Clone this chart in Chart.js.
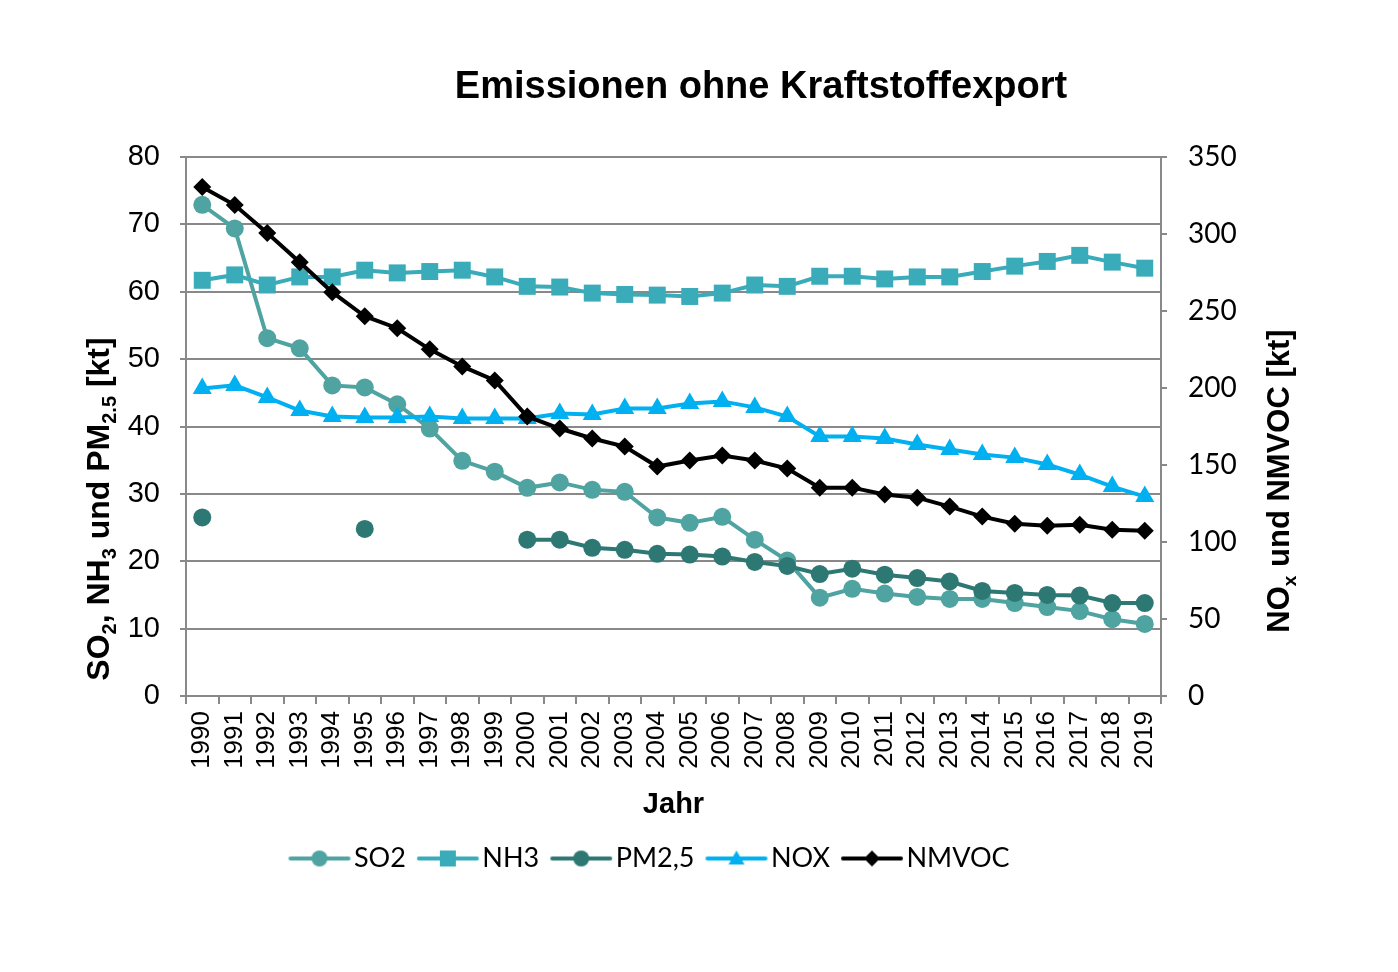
<!DOCTYPE html>
<html>
<head>
<meta charset="utf-8">
<script src="https://cdn.jsdelivr.net/npm/chart.js@4.4.1/dist/chart.umd.min.js"></script>
<style>
  html, body { margin: 0; padding: 0; background: #fff; }
  #wrap { width: 1398px; height: 972px; }
</style>
</head>
<body>
<div id="wrap"><canvas id="chart"></canvas></div>
<script>
const years = ['1990', '1991', '1992', '1993', '1994', '1995', '1996', '1997', '1998', '1999',
               '2000', '2001', '2002', '2003', '2004', '2005', '2006', '2007', '2008', '2009',
               '2010', '2011', '2012', '2013', '2014', '2015', '2016', '2017', '2018', '2019'];

// left axis [kt]
const so2 = [72.9, 69.4, 53.1, 51.6, 46.1, 45.8, 43.3, 39.7, 34.9, 33.3,
             30.9, 31.7, 30.6, 30.3, 26.5, 25.7, 26.6, 23.2, 20.1, 14.6,
             15.9, 15.2, 14.7, 14.4, 14.4, 13.8, 13.2, 12.6, 11.4, 10.7];
const nh3 = [61.7, 62.5, 61.0, 62.2, 62.2, 63.2, 62.8, 63.0, 63.2, 62.2,
             60.8, 60.7, 59.8, 59.6, 59.5, 59.3, 59.8, 61.0, 60.8, 62.3,
             62.3, 61.9, 62.2, 62.2, 63.0, 63.8, 64.5, 65.4, 64.4, 63.5];
const pm25 = [26.5, null, null, null, null, 24.8, null, null, null, null,
              23.2, 23.2, 22.0, 21.7, 21.1, 21.0, 20.7, 19.9, 19.3, 18.1,
              18.9, 18.0, 17.5, 17.0, 15.6, 15.3, 15.0, 14.9, 13.8, 13.8];

// right axis [kt]
const nox = [199.7, 201.7, 193.9, 185.4, 181.5, 180.9, 180.9, 181.5, 180.2, 180.2,
             180.2, 183.5, 182.8, 186.7, 186.7, 190.0, 191.3, 187.4, 181.5, 168.5,
             168.5, 167.2, 163.3, 160.0, 156.8, 154.8, 150.3, 143.8, 136.0, 129.5];
const nmvoc = [330.5, 318.8, 300.6, 281.7, 262.2, 246.6, 238.8, 225.1, 214.0, 204.9,
               181.5, 173.7, 167.2, 162.0, 149.0, 152.9, 156.1, 152.9, 147.7, 135.3,
               135.3, 130.8, 128.8, 123.0, 116.5, 111.9, 110.6, 111.2, 108.0, 107.3];

const leftRange = [0, 80, 10];
const rightRange = [0, 350, 50];

const chartTitle = 'Emissionen ohne Kraftstoffexport';
const xTitle = 'Jahr';
const leftTitle = [{t: 'SO'}, {t: '2', sub: true}, {t: ', NH'}, {t: '3', sub: true},
                   {t: ' und PM'}, {t: '2.5', sub: true}, {t: ' [kt]'}];
const rightTitle = [{t: 'NO'}, {t: 'x', sub: true}, {t: ' und NMVOC [kt]'}];

const ARIAL = '"Liberation Sans", Arial, sans-serif';
const CALIBRI = 'Lato, "Open Sans", sans-serif';
const GRID = '#898989';

Chart.defaults.color = '#000';

function legendIcon(color, style, r) {
    const c = document.createElement('canvas');
    c.width = 64;
    c.height = 26;
    const ctx = c.getContext('2d');
    ctx.strokeStyle = color;
    ctx.fillStyle = color;
    ctx.lineWidth = 4;
    ctx.lineCap = 'round';
    ctx.beginPath();
    ctx.moveTo(3, 13);
    ctx.lineTo(61, 13);
    ctx.stroke();
    ctx.beginPath();
    if (style === 'circle') {
        ctx.arc(32, 13, r, 0, Math.PI * 2);
    } else if (style === 'rect') {
        ctx.rect(32 - r, 13 - r, 2 * r, 2 * r);
    } else if (style === 'triangle') {
        ctx.moveTo(32, 13 - r);
        ctx.lineTo(32 + r, 13 + r * 0.75);
        ctx.lineTo(32 - r, 13 + r * 0.75);
        ctx.closePath();
    } else {
        ctx.moveTo(32, 13 - r);
        ctx.lineTo(32 + r, 13);
        ctx.lineTo(32, 13 + r);
        ctx.lineTo(32 - r, 13);
        ctx.closePath();
    }
    ctx.fill();
    return c;
}

function drawRich(ctx, parts, cx, cy, rot, size) {
    const big = `bold ${size}px ${ARIAL}`;
    const small = `bold ${Math.round(size * 0.62)}px ${ARIAL}`;
    let total = 0;
    parts.forEach(p => {
        ctx.font = p.sub ? small : big;
        p.w = ctx.measureText(p.t).width;
        total += p.w;
    });
    ctx.save();
    ctx.translate(cx, cy);
    ctx.rotate(rot);
    ctx.textAlign = 'left';
    ctx.textBaseline = 'alphabetic';
    let x = -total / 2;
    const base = size * 0.36;
    parts.forEach(p => {
        ctx.font = p.sub ? small : big;
        ctx.fillText(p.t, x, base + (p.sub ? size * 0.22 : 0));
        x += p.w;
    });
    ctx.restore();
}

const titlesPlugin = {
    id: 'titles',
    afterLayout(chart) {
        // legend sits a bit left of the page centre in the original
        chart.legend.right -= 90;
    },
    afterDraw(chart) {
        const ctx = chart.ctx;
        ctx.save();
        ctx.fillStyle = '#000';
        ctx.textAlign = 'center';
        ctx.textBaseline = 'middle';
        ctx.font = `bold 38px ${ARIAL}`;
        ctx.fillText(chartTitle, 761, 88);
        drawRich(ctx, leftTitle, 97, 509, -Math.PI / 2, 32);
        drawRich(ctx, rightTitle, 1278, 481, -Math.PI / 2, 31);
        ctx.restore();
    }
};

const series = [
    {label: 'SO2', data: so2, color: '#4fa3a0', style: 'circle', r: 9, axis: 'y', order: 5},
    {label: 'NH3', data: nh3, color: '#3aabb9', style: 'rect', r: 12, axis: 'y', order: 4},
    {label: 'PM2,5', data: pm25, color: '#2e7874', style: 'circle', r: 9, axis: 'y', order: 3},
    {label: 'NOX', data: nox, color: '#00b0f0', style: 'triangle', r: 11, axis: 'y2', order: 2},
    {label: 'NMVOC', data: nmvoc, color: '#000000', style: 'rectRot', r: 9, axis: 'y2', order: 1}
];

const legendIcons = series.map(s => legendIcon(s.color, s.style, 8));

const ctx = document.getElementById('chart').getContext('2d');
new Chart(ctx, {
    type: 'line',
    data: {
        labels: years,
        datasets: series.map(s => ({
            label: s.label,
            data: s.data,
            yAxisID: s.axis,
            order: s.order,
            borderColor: s.color,
            backgroundColor: s.color,
            borderWidth: 4,
            pointStyle: s.style,
            pointRadius: s.r,
            pointHoverRadius: s.r,
            pointBorderWidth: 0,
            pointBackgroundColor: s.color,
            spanGaps: false,
            tension: 0
        }))
    },
    options: {
        responsive: true,
        maintainAspectRatio: false,
        animation: false,
        layout: {padding: {top: 157, bottom: 90, left: 0, right: 0}},
        plugins: {
            title: {display: false},
            tooltip: {enabled: false},
            legend: {
                position: 'bottom',
                labels: {
                    usePointStyle: true,
                    pointStyleWidth: 42,
                    padding: 21,
                    color: '#000',
                    font: {family: CALIBRI, size: 27},
                    generateLabels(chart) {
                        return chart.data.datasets.map((ds, i) => ({
                            text: ds.label,
                            pointStyle: legendIcons[i],
                            fillStyle: ds.borderColor,
                            strokeStyle: ds.borderColor,
                            lineWidth: 0,
                            hidden: false,
                            datasetIndex: i,
                            fontColor: '#000'
                        }));
                    }
                }
            }
        },
        scales: {
            x: {
                type: 'category',
                offset: true,
                afterFit(scale) { scale.height = 128; },
                grid: {offset: true, drawOnChartArea: false, drawTicks: true, tickLength: 8, color: GRID, lineWidth: 2},
                border: {color: GRID, width: 2},
                ticks: {
                    minRotation: 90,
                    maxRotation: 90,
                    autoSkip: false,
                    padding: 7,
                    font: {family: ARIAL, size: 26}
                },
                title: {
                    display: true,
                    text: xTitle,
                    font: {family: ARIAL, size: 29, weight: 'bold'},
                    padding: {top: 0, bottom: 2}
                }
            },
            y: {
                position: 'left',
                min: leftRange[0],
                max: leftRange[1],
                afterFit(scale) { scale.width = 186; },
                ticks: {stepSize: leftRange[2], padding: 20, font: {family: ARIAL, size: 29}},
                grid: {color: GRID, lineWidth: 2, tickLength: 6},
                border: {color: GRID, width: 2}
            },
            y2: {
                position: 'right',
                min: rightRange[0],
                max: rightRange[1],
                afterFit(scale) { scale.width = 237; },
                ticks: {stepSize: rightRange[2], padding: 21, font: {family: CALIBRI, size: 28}},
                grid: {drawOnChartArea: false, color: GRID, lineWidth: 2, tickLength: 6},
                border: {color: GRID, width: 2}
            }
        }
    },
    plugins: [titlesPlugin]
});
</script>
</body>
</html>
